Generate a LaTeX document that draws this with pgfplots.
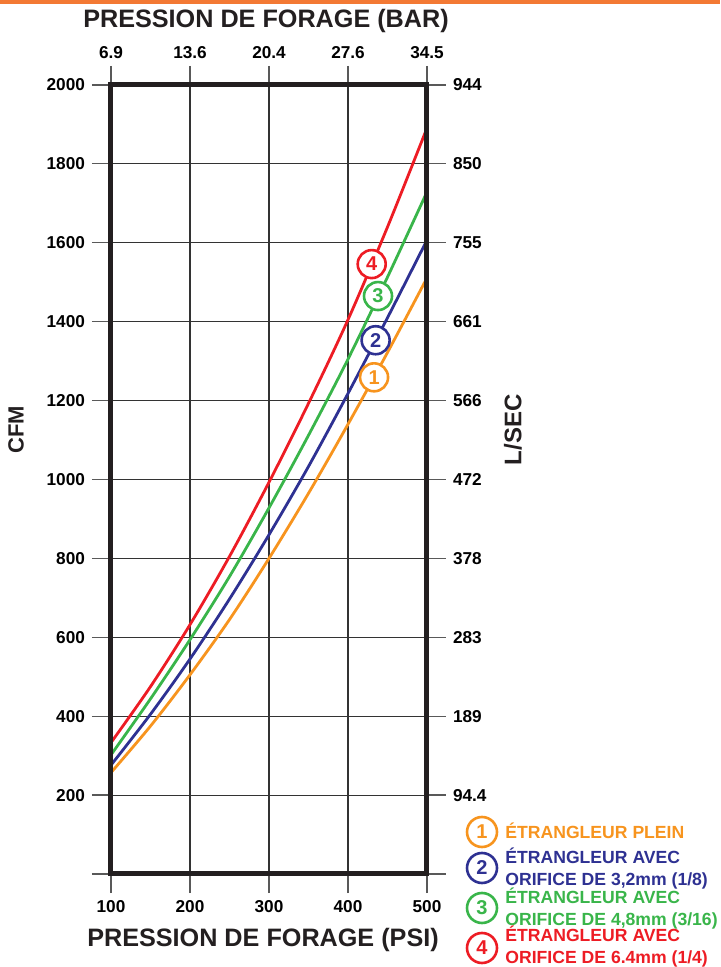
\documentclass[border=0pt]{standalone}
\usepackage{fontspec}
\setmainfont{Liberation Sans}
\usepackage{pgfplots}
\pgfplotsset{compat=1.18}
\definecolor{cOr}{RGB}{247,148,30}
\definecolor{cBl}{RGB}{46,49,146}
\definecolor{cGr}{RGB}{57,181,74}
\definecolor{cRe}{RGB}{237,28,36}
\definecolor{cFr}{RGB}{35,31,32}
\definecolor{cTop}{RGB}{243,121,52}
\begin{document}
\begin{tikzpicture}
\useasboundingbox (-55.5pt,-46.5pt) rectangle (304.5pt,437pt);
\pgfplotsset{common/.style={scale only axis, width=158pt, height=394.5pt,
  at={(0,0)}, anchor=south west,
  xmin=100, xmax=500, ymin=0, ymax=2000,
  xtick={100,200,300,400,500}, ytick={0,200,...,2000},
  tick align=outside, major tick length=9.5pt,
  tick style={black!65, line width=0.6pt},
  tick label style={font=\bfseries\fontsize{8.6}{10}\selectfont},
  /pgf/number format/assume math mode=true}}
\begin{axis}[common, axis line style={draw=none},
  grid=major, grid style={black!80, line width=0.55pt},
  xtick pos=left, ytick pos=left,
  xticklabels={100,200,300,400,500},
  yticklabels={,200,400,600,800,1000,1200,1400,1600,1800,2000}]
\addplot[cOr, line width=1.4pt, smooth] coordinates {(100,257) (150,375) (200,505) (250,645) (300,800) (350,965) (400,1140) (450,1322) (500,1511)};
\addplot[cBl, line width=1.4pt, smooth] coordinates {(100,276) (150,405) (200,545) (250,697) (300,860) (350,1033) (400,1218) (450,1410) (500,1607)};
\addplot[cGr, line width=1.4pt, smooth] coordinates {(100,302) (150,444) (200,594) (250,754) (300,928) (350,1112) (400,1305) (450,1513) (500,1729)};
\addplot[cRe, line width=1.4pt, smooth] coordinates {(100,333) (150,475) (200,632) (250,805) (300,993) (350,1193) (400,1405) (450,1640) (500,1891)};
\addplot[only marks, mark=*, mark size=7pt, mark options={draw=cOr, fill=white, line width=1.3pt},
  nodes near coords={1}, every node near coord/.append style={anchor=center, text=cOr, font=\bfseries\fontsize{10}{10}\selectfont}] coordinates {(433,1259)};
\addplot[only marks, mark=*, mark size=7pt, mark options={draw=cBl, fill=white, line width=1.3pt},
  nodes near coords={2}, every node near coord/.append style={anchor=center, text=cBl, font=\bfseries\fontsize{10}{10}\selectfont}] coordinates {(435,1353)};
\addplot[only marks, mark=*, mark size=7pt, mark options={draw=cGr, fill=white, line width=1.3pt},
  nodes near coords={3}, every node near coord/.append style={anchor=center, text=cGr, font=\bfseries\fontsize{10}{10}\selectfont}] coordinates {(438,1465)};
\addplot[only marks, mark=*, mark size=7pt, mark options={draw=cRe, fill=white, line width=1.3pt},
  nodes near coords={4}, every node near coord/.append style={anchor=center, text=cRe, font=\bfseries\fontsize{10}{10}\selectfont}] coordinates {(430,1546)};
\end{axis}
\begin{axis}[common, axis line style={cFr, line width=2.5pt},
  xtick pos=right, ytick pos=right,
  xticklabels={6.9,13.6,20.4,27.6,34.5},
  yticklabels={,94.4,189,283,378,472,566,661,755,850,944},
  yticklabel style={anchor=west}]
\end{axis}
\draw[cTop, line width=2.5pt] (-55.5pt,436pt) -- (304.5pt,436pt);
\node[font=\bfseries\fontsize{12.6}{14}\selectfont, text=cFr] at (77.5pt,426.5pt) {PRESSION DE FORAGE (BAR)};
\node[font=\bfseries\fontsize{12.6}{14}\selectfont, text=cFr] at (76pt,-33pt) {PRESSION DE FORAGE (PSI)};
\node[rotate=90, font=\bfseries\fontsize{11}{12}\selectfont, text=cFr] at (-47.5pt,222pt) {CFM};
\node[rotate=90, font=\bfseries\fontsize{12}{12}\selectfont, text=cFr] at (201pt,222pt) {L/SEC};
% legend
\tikzset{lgc/.style={circle, draw=#1, text=#1, line width=1.3pt, minimum size=15pt, inner sep=0pt, fill=white, font=\bfseries\fontsize{10}{10}\selectfont},
  lgt/.style={anchor=west, align=left, text=#1, inner sep=0pt, font=\bfseries\fontsize{8.8}{11}\selectfont}}
\node[lgc=cOr] at (185.5pt,21pt) {1};
\node[lgt=cOr] at (197pt,21.5pt) {ÉTRANGLEUR PLEIN};
\node[lgc=cBl] at (185.5pt,3pt) {2};
\node[lgt=cBl] at (197pt,2.5pt) {ÉTRANGLEUR AVEC\\ORIFICE DE 3,2mm (1/8)};
\node[lgc=cGr] at (185.5pt,-17pt) {3};
\node[lgt=cGr] at (197pt,-17.25pt) {ÉTRANGLEUR AVEC\\ORIFICE DE 4,8mm (3/16)};
\node[lgc=cRe] at (185.5pt,-37pt) {4};
\node[lgt=cRe] at (197pt,-36.5pt) {ÉTRANGLEUR AVEC\\ORIFICE DE 6.4mm (1/4)};
\end{tikzpicture}
\end{document}
